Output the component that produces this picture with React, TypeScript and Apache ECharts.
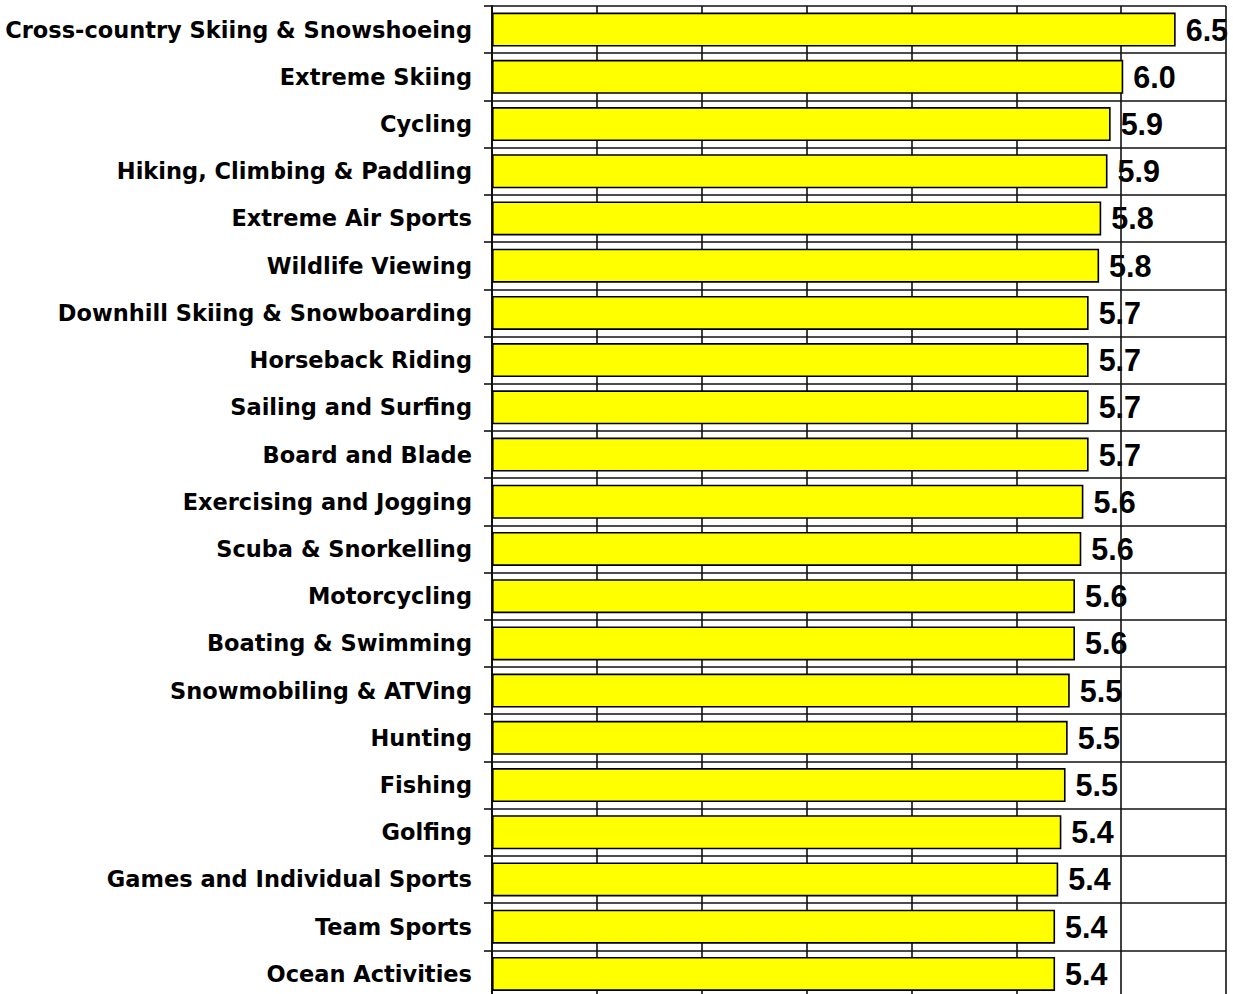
import React, { useEffect, useRef } from "react";
import * as echarts from "echarts";

const categories = [
  "Cross-country Skiing & Snowshoeing",
  "Extreme Skiing",
  "Cycling",
  "Hiking, Climbing & Paddling",
  "Extreme Air Sports",
  "Wildlife Viewing",
  "Downhill Skiing & Snowboarding",
  "Horseback Riding",
  "Sailing and Surfing",
  "Board and Blade",
  "Exercising and Jogging",
  "Scuba & Snorkelling",
  "Motorcycling",
  "Boating & Swimming",
  "Snowmobiling & ATVing",
  "Hunting",
  "Fishing",
  "Golfing",
  "Games and Individual Sports",
  "Team Sports",
  "Ocean Activities",
];

const scores = [
  6.52, 6.02, 5.9, 5.87, 5.81, 5.79, 5.69, 5.69, 5.69, 5.69, 5.64, 5.62, 5.56,
  5.56, 5.51, 5.49, 5.47, 5.43, 5.4, 5.37, 5.37,
];

const xMin = 0;
const xMax = 7;
const xStep = 1;

export default function App() {
  const ref = useRef<HTMLDivElement>(null);

  useEffect(() => {
    if (!ref.current) return;
    const chart = echarts.init(ref.current, null, { renderer: "svg" });
    const lineColor = "#111111";
    chart.setOption({
      animation: false,
      backgroundColor: "#ffffff",
      grid: {
        left: 492,
        width: 734,
        top: 6,
        height: 991.5,
        containLabel: false,
        outerBoundsMode: "none",
      },
      xAxis: {
        type: "value",
        min: xMin,
        max: xMax,
        interval: xStep,
        z: 1,
        axisLine: { show: true, lineStyle: { color: lineColor, width: 1.5 } },
        axisTick: { show: false },
        axisLabel: { show: false },
        splitLine: { show: true, lineStyle: { color: lineColor, width: 1.6 } },
      },
      yAxis: {
        type: "category",
        data: categories,
        inverse: true,
        z: 1,
        axisLine: { show: true, lineStyle: { color: lineColor, width: 2 } },
        axisTick: { show: true, length: 8, lineStyle: { color: lineColor, width: 1.6 } },
        splitLine: { show: true, lineStyle: { color: lineColor, width: 1.6 } },
        axisLabel: {
          margin: 20,
          color: "#000000",
          fontFamily: "DejaVu Sans",
          fontWeight: "bold",
          fontSize: 22.5,
        },
      },
      series: [
        {
          name: "labels",
          type: "bar",
          data: scores,
          z: 0,
          barCategoryGap: "28%",
          barGap: "-100%",
          silent: true,
          itemStyle: { color: "rgba(0,0,0,0)", borderWidth: 0 },
          label: {
            show: true,
            position: "right",
            distance: 10,
            color: "#000000",
            fontFamily: "Liberation Sans, Arial, sans-serif",
            fontWeight: "bold",
            fontSize: 30.5,
            formatter: (p: any) => Number(p.value).toFixed(1),
          },
        },
        {
          name: "score",
          type: "bar",
          data: scores,
          z: 2,
          barCategoryGap: "28%",
          barGap: "-100%",
          itemStyle: { color: "#FFFF00", borderColor: "#000000", borderWidth: 1.6 },
          label: { show: false },
        },
      ],
    });
    return () => chart.dispose();
  }, []);

  return (
    <div
      ref={ref}
      style={{
        position: "fixed",
        left: 0,
        top: 0,
        width: 1233,
        height: 994,
        background: "#ffffff",
      }}
    />
  );
}
